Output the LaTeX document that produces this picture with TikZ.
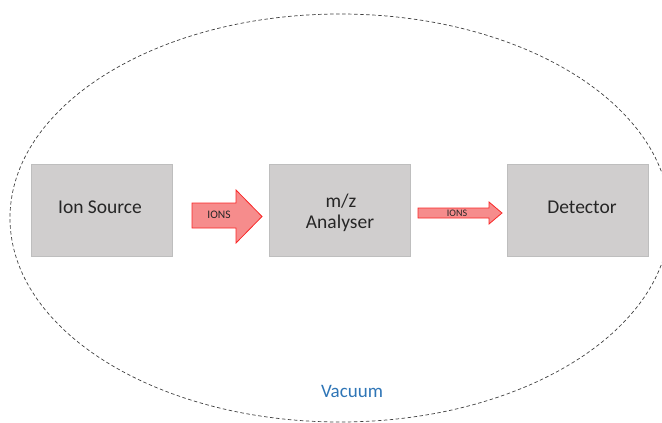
\documentclass[tikz,border=0pt]{standalone}
\usepackage{fontspec}
\setmainfont{Carlito}
\definecolor{boxfill}{RGB}{208,206,206}
\definecolor{boxline}{RGB}{190,190,190}
\definecolor{arrowfill}{RGB}{246,140,140}
\definecolor{arrowline}{RGB}{250,40,40}
\definecolor{vacblue}{RGB}{46,117,182}
\definecolor{labeltext}{RGB}{38,38,38}
\tikzset{
  stage/.style={draw=boxline, fill=boxfill, line width=0.8pt, minimum width=141pt,
    minimum height=92pt, inner sep=0pt},
  stagetext/.style={inner sep=0pt, align=center, text=labeltext,
    font=\fontsize{19.5}{21}\selectfont},
  blockarrow/.style={draw=arrowline, fill=arrowfill, line width=0.8pt, line join=miter},
  arrowlabel/.style={inner sep=0pt, text=labeltext},
}
\begin{document}
\begin{tikzpicture}[x=1pt, y=-1pt]
  \useasboundingbox (0,0) rectangle (662,423);
  % vacuum chamber
  \draw[line width=0.7pt, black!75, dash pattern=on 3.5pt off 2.5pt]
    (340,218) ellipse [x radius=330, y radius=204];
  \node[text=vacblue, inner sep=0pt, font=\fontsize{19}{22}\selectfont, anchor=base]
    (vac) at (352,397) {Vacuum};
  % stages
  \node[stage] (src) at (101.5,210) {};
  \node[stage] (mz) at (339.5,210) {};
  \node[stage] (det) at (578,210) {};
  \node[stagetext, anchor=base] (srct) at (100,213) {Ion Source};
  \node[stagetext, anchor=base] (mzt1) at (341,207) {m/z};
  \node[stagetext, anchor=base] (mzt2) at (340,228) {Analyser};
  \node[stagetext, anchor=base] (dett) at (582,213) {Detector};
  % ion beams
  \draw[blockarrow] (192,203) -- (236,203) -- (236,190) -- (262,216.5)
    -- (236,243) -- (236,228) -- (192,228) -- cycle;
  \node[arrowlabel, anchor=base, font=\fontsize{11.5}{13}\selectfont] (ions1) at (219,218) {IONS};
  \draw[blockarrow] (418,208) -- (489,208) -- (489,202) -- (502,213)
    -- (489,224) -- (489,218) -- (418,218) -- cycle;
  \node[arrowlabel, anchor=base, font=\fontsize{10}{11}\selectfont] (ions2) at (457,216) {IONS};
\end{tikzpicture}
\end{document}
